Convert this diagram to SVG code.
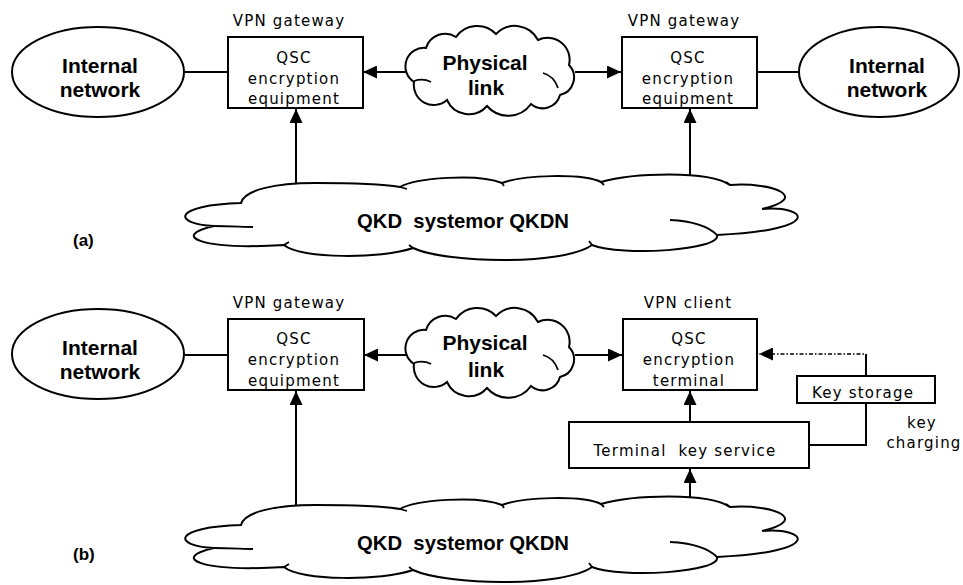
<svg xmlns="http://www.w3.org/2000/svg" width="963" height="585" viewBox="0 0 963 585">
<style>
  .shape { fill: #fff; stroke: #000; stroke-width: 2; }
  .line { fill: none; stroke: #000; stroke-width: 2; }
  .thin { fill: none; stroke: #000; stroke-width: 1.8; }
  .dot { fill: none; stroke: #000; stroke-width: 1.5; stroke-dasharray: 4 2 1.5 2; }
  .bold { font-family: "Liberation Sans", Arial, sans-serif; font-weight: bold; font-size: 21px; fill: #000; text-anchor: middle; }
  .lbl { font-family: "DejaVu Sans", Verdana, sans-serif; font-size: 15px; letter-spacing: 1.2px; fill: #000; text-anchor: middle; }
  .tag { font-family: "Liberation Sans", Arial, sans-serif; font-weight: bold; font-size: 17px; fill: #000; }
</style>
<defs>
  <marker id="ah" markerUnits="userSpaceOnUse" markerWidth="15" markerHeight="13" refX="14" refY="6.5" orient="auto">
    <path d="M0,0 L14,6.5 L0,13 Z" fill="#000"/>
  </marker>
  <path id="physCloud" d="M426,48 A20,20 0 0 1 456,37 A26,26 0 0 1 496,34 A26,26 0 0 1 538,40 A22,22 0 0 1 569,65 A18,18 0 0 1 560,95 A18,18 0 0 1 531,104 A28,28 0 0 1 487,106 A24,24 0 0 1 447,100 A20,20 0 0 1 414,82 A18.5,18.5 0 0 1 426,48 Z"/>
  <path id="physInner" d="M414,81 q9,-3 17,1 M543,73 q11,3 15,15"/>
  <path id="qkdCloud" d="M241,203 C244,190 275,183 315,183 C355,183 388,185 400,187 C415,178 478,173 502,183 C522,175 582,173 601,182 C632,173 708,170 730,185 C775,182 810,198 762,209 C808,205 825,230 717,235 C722,250 622,257 592,245 C565,265 448,264 413,248 C382,259 300,259 284,245 C200,250 170,236 214,226 C172,224 172,205 241,203 Z"/>
  <path id="qkdInner" d="M214,226 C230,226 244,227 253,227 M670,220 C690,221 708,226 717,235 M400,187 l7,2 M502,183 l2,3 M601,182 l3,3 M730,185 l-4,-3 M592,245 l-3,-4 M413,248 l-4,-3 M284,245 l5,-3"/>
</defs>

<g id="connectors">
  <line class="line" x1="185" y1="72" x2="228" y2="72"/>
  <line class="line" x1="407" y1="72" x2="363" y2="72" marker-end="url(#ah)"/>
  <line class="line" x1="575" y1="72" x2="621" y2="72" marker-end="url(#ah)"/>
  <line class="line" x1="757" y1="72" x2="799" y2="72"/>
  <line class="line" x1="296" y1="184" x2="296" y2="109" marker-end="url(#ah)"/>
  <line class="line" x1="690" y1="176" x2="690" y2="109" marker-end="url(#ah)"/>
  <line class="line" x1="185" y1="355" x2="228" y2="355"/>
  <line class="line" x1="407" y1="355" x2="364" y2="355" marker-end="url(#ah)"/>
  <line class="line" x1="575" y1="355" x2="622" y2="355" marker-end="url(#ah)"/>
  <line class="line" x1="296" y1="505" x2="296" y2="391" marker-end="url(#ah)"/>
  <line class="line" x1="690" y1="422" x2="690" y2="391" marker-end="url(#ah)"/>
  <line class="line" x1="690" y1="498" x2="690" y2="469" marker-end="url(#ah)"/>
  <polyline class="dot" points="866,377 866,354 759,354" marker-end="url(#ah)"/>
  <line class="line" x1="866" y1="354" x2="866" y2="377"/>
  <polyline class="line" points="866,403 866,445 809,445"/>
  <text class="lbl" x="922" y="428">key</text>
  <text class="lbl" x="924" y="448">charging</text>
</g>

<g id="a-internal-left">
  <ellipse class="shape" cx="98" cy="72" rx="86" ry="45"/>
  <text class="bold" x="100" y="73">Internal</text>
  <text class="bold" x="100" y="97">network</text>
</g>
<g id="a-gateway-left">
  <text class="lbl" x="289" y="26">VPN gateway</text>
  <rect class="shape" x="228" y="37" width="135" height="71"/>
  <text class="lbl" x="294" y="63">QSC</text>
  <text class="lbl" x="294" y="84">encryption</text>
  <text class="lbl" x="294" y="104">equipment</text>
</g>
<g id="a-physical-link">
  <use href="#physCloud" class="shape"/>
  <use href="#physInner" class="thin"/>
  <text class="bold" x="485" y="70">Physical</text>
  <text class="bold" x="486" y="95">link</text>
</g>
<g id="a-gateway-right">
  <text class="lbl" x="684" y="26">VPN gateway</text>
  <rect class="shape" x="622" y="37" width="135" height="71"/>
  <text class="lbl" x="688" y="63">QSC</text>
  <text class="lbl" x="688" y="84">encryption</text>
  <text class="lbl" x="688" y="104">equipment</text>
</g>
<g id="a-internal-right">
  <ellipse class="shape" cx="879" cy="72" rx="80" ry="45"/>
  <text class="bold" x="887" y="73">Internal</text>
  <text class="bold" x="887" y="97">network</text>
</g>
<g id="a-qkd">
  <use href="#qkdCloud" class="shape"/>
  <use href="#qkdInner" class="thin"/>
  <text class="bold" x="357" y="228" style="text-anchor:start" textLength="212" lengthAdjust="spacingAndGlyphs" xml:space="preserve">QKD  systemor QKDN</text>
</g>
<g id="label-a">
  <text class="tag" x="73" y="246">(a)</text>
</g>

<g id="b-internal-left">
  <ellipse class="shape" cx="98" cy="354" rx="86" ry="45"/>
  <text class="bold" x="100" y="355">Internal</text>
  <text class="bold" x="100" y="379">network</text>
</g>
<g id="b-gateway-left">
  <text class="lbl" x="289" y="308">VPN gateway</text>
  <rect class="shape" x="228" y="319" width="136" height="71"/>
  <text class="lbl" x="294" y="344">QSC</text>
  <text class="lbl" x="294" y="365">encryption</text>
  <text class="lbl" x="294" y="386">equipment</text>
</g>
<g id="b-physical-link" transform="translate(0,282)">
  <use href="#physCloud" class="shape"/>
  <use href="#physInner" class="thin"/>
  <text class="bold" x="485" y="68">Physical</text>
  <text class="bold" x="486" y="95">link</text>
</g>
<g id="b-vpn-client">
  <text class="lbl" x="688" y="308">VPN client</text>
  <rect class="shape" x="623" y="319" width="134" height="71"/>
  <text class="lbl" x="689" y="344">QSC</text>
  <text class="lbl" x="689" y="365">encryption</text>
  <text class="lbl" x="689" y="386">terminal</text>
</g>
<g id="b-key-storage">
  <rect class="shape" x="797" y="376" width="138" height="27"/>
  <text class="lbl" x="863" y="398">Key storage</text>
</g>
<g id="b-terminal-key-service">
  <rect class="shape" x="569" y="422" width="240" height="46"/>
  <text class="lbl" x="685" y="456" xml:space="preserve">Terminal  key service</text>
</g>
<g id="b-qkd" transform="translate(0,322)">
  <use href="#qkdCloud" class="shape"/>
  <use href="#qkdInner" class="thin"/>
  <text class="bold" x="357" y="228" style="text-anchor:start" textLength="212" lengthAdjust="spacingAndGlyphs" xml:space="preserve">QKD  systemor QKDN</text>
</g>
<g id="label-b">
  <text class="tag" x="73" y="560">(b)</text>
</g>
</svg>
